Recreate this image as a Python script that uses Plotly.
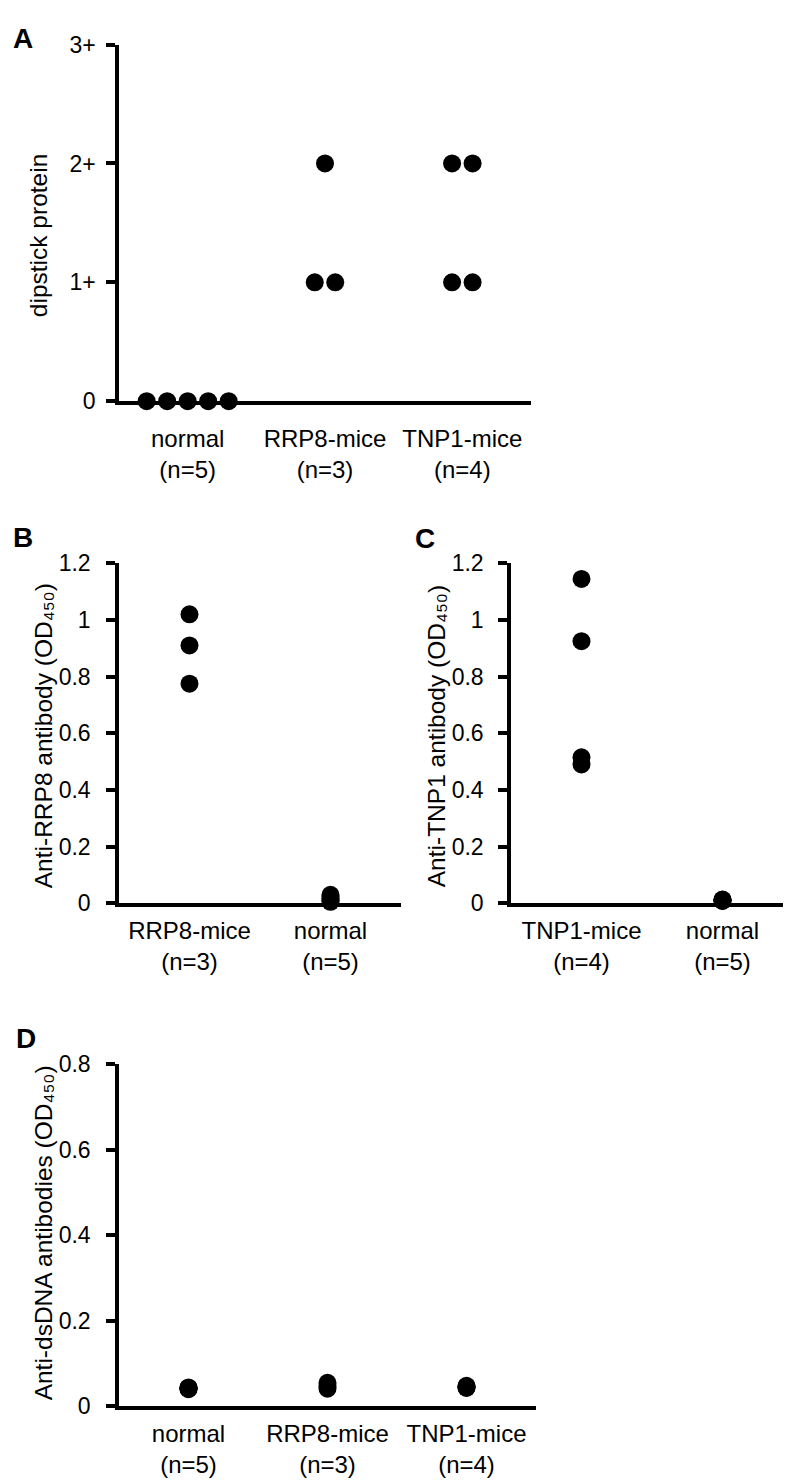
import plotly.graph_objects as go
from collections import Counter

W, H = 791, 1482
FONT = "Liberation Sans, Arial, sans-serif"

# ---------------- data ----------------
# Panel A : dipstick protein
a_categories = ["normal<br>(n=5)", "RRP8-mice<br>(n=3)", "TNP1-mice<br>(n=4)"]
a_normal = [0, 0, 0, 0, 0]
a_rrp8 = [2, 1, 1]
a_tnp1 = [2, 2, 1, 1]
a_tickvals = [0, 1, 2, 3]
a_ticktext = ["0", "1+", "2+", "3+"]

# Panel B : anti-RRP8 antibody
b_categories = ["RRP8-mice<br>(n=3)", "normal<br>(n=5)"]
b_rrp8 = [1.02, 0.91, 0.775]
b_normal = [0.03, 0.022, 0.015, 0.01, 0.005]

# Panel C : anti-TNP1 antibody
c_categories = ["TNP1-mice<br>(n=4)", "normal<br>(n=5)"]
c_tnp1 = [1.145, 0.925, 0.515, 0.49]
c_normal = [0.013, 0.012, 0.01, 0.009, 0.008]

bc_tickvals = [0, 0.2, 0.4, 0.6, 0.8, 1.0, 1.2]
bc_ticktext = ["0", "0.2", "0.4", "0.6", "0.8", "1", "1.2"]

# Panel D : anti-dsDNA antibodies
d_categories = ["normal<br>(n=5)", "RRP8-mice<br>(n=3)", "TNP1-mice<br>(n=4)"]
d_normal = [0.044, 0.043, 0.042, 0.041, 0.040]
d_rrp8 = [0.055, 0.047, 0.041]
d_tnp1 = [0.048, 0.046, 0.044, 0.043]
d_tickvals = [0, 0.2, 0.4, 0.6, 0.8]
d_ticktext = ["0", "0.2", "0.4", "0.6", "0.8"]

# ---------------- helpers ----------------
def xd(px):
    return px / W

def yd(px):
    return 1 - px / H

def spread(values, step):
    counts = Counter(values)
    seen = {}
    offs = []
    for v in values:
        n = counts[v]
        i = seen.get(v, 0)
        seen[v] = i + 1
        offs.append((i - (n - 1) / 2) * step)
    return offs

fig = go.Figure()

def add_group(values, cat_index, step, xa, ya):
    offs = spread(values, step)
    fig.add_trace(go.Scatter(
        x=[cat_index + o for o in offs], y=values,
        mode="markers", xaxis=xa, yaxis=ya,
        marker=dict(size=18, color="black", line=dict(width=0)),
        cliponaxis=False, showlegend=False, hoverinfo="skip"))

# panel pixel boxes: (x0, x1, ytop, ybottom)
boxes = {
    "A": (111, 523, 24, 387),
    "B": (111, 393, 552, 898),
    "C": (503, 785, 552, 898),
    "D": (111, 528, 1062, 1410),
}

step_a = 20.5 / ((boxes["A"][1] - boxes["A"][0]) / 3)
add_group(a_normal, 1, step_a, "x", "y")
add_group(a_rrp8, 2, step_a, "x", "y")
add_group(a_tnp1, 3, step_a, "x", "y")

add_group(b_rrp8, 1, 0, "x2", "y2")
add_group(b_normal, 2, 0, "x2", "y2")

add_group(c_tnp1, 1, 0, "x3", "y3")
add_group(c_normal, 2, 0, "x3", "y3")

add_group(d_normal, 1, 0, "x4", "y4")
add_group(d_rrp8, 2, 0, "x4", "y4")
add_group(d_tnp1, 3, 0, "x4", "y4")

LW = 3.5

def xaxis_cfg(box, cats, anchor, standoff):
    x0, x1, yt, yb = box
    return dict(domain=[xd(x0), xd(x1)], range=[0.5, len(cats) + 0.5],
                tickmode="array", tickvals=list(range(1, len(cats) + 1)), ticktext=cats,
                showline=True, linecolor="black", linewidth=LW, ticks="",
                showgrid=False, zeroline=False, anchor=anchor,
                tickfont=dict(family=FONT, size=24, color="black"),
                ticklabelstandoff=standoff, fixedrange=True)

def yaxis_cfg(box, rng, tv, tt, anchor, standoff):
    x0, x1, yt, yb = box
    return dict(domain=[yd(yb), yd(yt)], range=rng,
                tickmode="array", tickvals=tv, ticktext=tt,
                showline=True, linecolor="black", linewidth=LW,
                ticks="outside", ticklen=9, tickwidth=LW, tickcolor="black",
                showgrid=False, zeroline=False, anchor=anchor,
                tickfont=dict(family=FONT, size=23, color="black"),
                ticklabelstandoff=standoff, fixedrange=True)

fig.update_layout(
    width=W, height=H, margin=dict(l=0, r=0, t=0, b=0),
    paper_bgcolor="white", plot_bgcolor="white",
    font=dict(family=FONT, color="black"),
    xaxis=xaxis_cfg(boxes["A"], a_categories, "y", 13),
    yaxis=yaxis_cfg(boxes["A"], [0, 3], a_tickvals, a_ticktext, "x", 6),
    xaxis2=xaxis_cfg(boxes["B"], b_categories, "y2", 3),
    yaxis2=yaxis_cfg(boxes["B"], [0, 1.2], bc_tickvals, bc_ticktext, "x2", 11),
    xaxis3=xaxis_cfg(boxes["C"], c_categories, "y3", 3),
    yaxis3=yaxis_cfg(boxes["C"], [0, 1.2], bc_tickvals, bc_ticktext, "x3", 10),
    xaxis4=xaxis_cfg(boxes["D"], d_categories, "y4", 3),
    yaxis4=yaxis_cfg(boxes["D"], [0, 0.8], d_tickvals, d_ticktext, "x4", 11),
)

# y-axis titles (subscript digits as Unicode characters)
titles = [
    ("dipstick protein", 30, 219),
    ("Anti-RRP8 antibody (OD\u2084\u2085\u2080)", 35, 728),
    ("Anti-TNP1 antibody (OD\u2084\u2085\u2080)", 428, 728),
    ("Anti-dsDNA antibodies (OD\u2084\u2085\u2080)", 35, 1234),
]
for txt, px, py in titles:
    fig.add_annotation(text=txt, x=xd(px), y=yd(py), xref="paper", yref="paper",
                       textangle=-90, showarrow=False, xanchor="center", yanchor="middle",
                       font=dict(family=FONT, size=24.5, color="black"))

# panel letters
letters = [("A", 15, 18), ("B", 15, 526), ("C", 417, 527), ("D", 18, 1036)]
for txt, px, py in letters:
    fig.add_annotation(text="<b>%s</b>" % txt, x=xd(px), y=yd(py), xref="paper", yref="paper",
                       showarrow=False, xanchor="center", yanchor="middle",
                       font=dict(family=FONT, size=28, color="black"))

fig.write_html("out.html")
